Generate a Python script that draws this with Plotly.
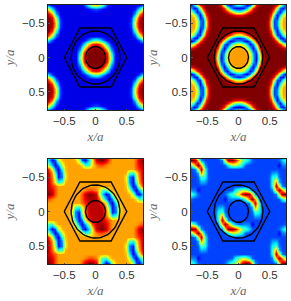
import numpy as np
import plotly.graph_objects as go

W, H = 291, 301
jet = [[0, "#000080"], [.125, "#0000ff"], [.375, "#00ffff"], [.625, "#ffff00"], [.875, "#ff0000"], [1, "#800000"]]

hex_x = [-.5, -.25, .25, .5, .25, -.25, -.5]
hex_y = [0, -.433, -.433, 0, .433, .433, 0]
r_inner, r_outer = .16, .39
tick_vals = [-.5, 0, .5]
tick_text = ["\u22120.5", "0", "0.5"]

# Panel A: top-right quadrant values (rows y=0..0.77, columns x=0..0.76)
A_x = [0, .063, .127, .19, .253, .317, .38, .443, .507, .57, .633, .697, .76]
A_y = [0, .064, .128, .193, .257, .321, .385, .449, .513, .578, .642, .706, .77]
A_quad = [
 [1, 1, 1, .88, .5, .12, .1, .1, .1, .1, .1, .1, .1],
 [1, 1, 1, .85, .41, .12, .1, .1, .1, .1, .1, .1, .1],
 [1, 1, .92, .66, .26, .1, .1, .1, .1, .1, .1, .1, .1],
 [.87, .83, .64, .35, .13, .1, .1, .1, .1, .1, .1, .1, .11],
 [.44, .39, .24, .12, .1, .1, .1, .1, .1, .1, .1, .2, .39],
 [.12, .11, .1, .1, .1, .1, .1, .1, .1, .1, .2, .53, .8],
 [.1, .1, .1, .1, .1, .1, .1, .1, .1, .13, .42, .82, 1],
 [.1, .1, .1, .1, .1, .1, .1, .1, .1, .17, .59, .93, 1],
 [.1, .1, .1, .1, .1, .1, .1, .1, .1, .19, .63, .95, 1],
 [.1, .1, .1, .1, .1, .1, .1, .1, .1, .16, .53, .9, 1],
 [.1, .1, .1, .1, .1, .1, .1, .1, .1, .11, .3, .72, .93],
 [.2, .17, .12, .1, .1, .1, .1, .1, .1, .1, .15, .38, .64],
 [.65, .59, .4, .17, .1, .1, .1, .1, .1, .1, .1, .12, .22],
]

# Panel B: top-right quadrant values on a finer grid
B_x = [0, .0475, .095, .1425, .19, .2375, .285, .3325, .38, .4275, .475, .5225, .57, .6175, .665, .7125, .76]
B_y = [0, .048, .096, .144, .193, .241, .289, .337, .385, .433, .481, .529, .578, .626, .674, .722, .77]
B_quad = [
 [.72, .72, .72, .72, .64, .33, .1, .5, .88, 1, 1, 1, 1, 1, 1, 1, 1],
 [.72, .72, .72, .71, .62, .3, .14, .56, .92, 1, 1, 1, 1, 1, 1, 1, 1],
 [.72, .72, .72, .69, .51, .19, .21, .66, .95, 1, 1, 1, 1, 1, 1, 1, 1],
 [.72, .71, .69, .58, .31, .1, .39, .81, .98, 1, 1, 1, 1, 1, .99, .94, .86],
 [.62, .6, .5, .31, .12, .26, .64, .93, 1, 1, 1, 1, 1, .96, .84, .63, .45],
 [.29, .26, .16, .1, .28, .58, .87, .99, 1, 1, 1, 1, .96, .79, .47, .21, .1],
 [.14, .17, .24, .42, .66, .88, .98, 1, 1, 1, 1, .98, .83, .47, .15, .15, .35],
 [.57, .6, .7, .83, .93, .99, 1, 1, 1, 1, 1, .9, .58, .17, .17, .44, .62],
 [.93, .94, .96, .98, 1, 1, 1, 1, 1, 1, .98, .81, .37, .11, .38, .63, .71],
 [1, 1, 1, 1, 1, 1, 1, 1, 1, 1, .96, .7, .22, .18, .52, .7, .72],
 [1, 1, 1, 1, 1, 1, 1, 1, 1, 1, .95, .64, .19, .24, .59, .71, .72],
 [1, 1, 1, 1, 1, 1, 1, 1, 1, 1, .95, .65, .18, .25, .58, .71, .72],
 [1, 1, 1, 1, 1, 1, 1, 1, 1, 1, .97, .72, .26, .15, .49, .69, .72],
 [.87, .89, .93, .97, 1, 1, 1, 1, 1, 1, .98, .83, .42, .1, .34, .6, .7],
 [.46, .49, .6, .76, .89, .98, 1, 1, 1, 1, 1, .92, .64, .26, .13, .37, .57],
 [.1, .11, .17, .33, .58, .84, .97, 1, 1, 1, 1, .99, .86, .55, .21, .13, .29],
 [.4, .36, .24, .12, .2, .53, .85, .98, 1, 1, 1, 1, .98, .86, .57, .32, .15],
]

# Panels C, D: one repeating cell, upper half (rows y=-0.5..0, columns x=-0.433..0.433)
o = .715
C_cell = [
 [o]*17,
 [o]*17,
 [o]*17,
 [o, o, o, o, .72, .75, .8, .8, .75, .65, .45, .42, .65, .71, o, o, o],
 [o, o, o, o, .8, .93, 1.0, .98, .92, .62, .35, .12, .2, .55, .7, o, o],
 [o, o, o, .72, .8, .9, .96, .96, .94, .8, .55, .3, .1, .25, .58, .7, o],
 [o, o, o, o, .78, .84, .93, .94, .94, .94, .85, .6, .25, .1, .4, .68, o],
 [o, .7, .45, .4, .62, .78, .94, .94, .94, .94, .92, .72, .45, .12, .28, .65, o],
 [.71, .62, .25, .15, .55, .75, .94, .94, .94, .94, .94, .75, .55, .15, .25, .62, .71],
]
b = .19
D_cell = [
 [b]*17,
 [b]*17,
 [b]*17,
 [b, b, b, b, b, b, .22, .38, .48, .55, .55, .4, .22, b, b, b, b],
 [b, b, b, b, .22, .33, .45, .5, .68, .9, 1.0, .98, .65, .25, b, b, b],
 [b, b, b, b, .12, .24, .26, .24, .22, .3, .42, .75, 1.0, .7, .25, b, b],
 [b, b, b, b, b, b, b, b, b, b, b, .25, .6, .95, .4, .2, b],
 [b, .19, .28, .3, .2, b, b, b, b, b, b, b, .3, .75, .42, .2, b],
 [b, .21, .38, .45, .22, b, b, b, b, b, b, b, .22, .45, .38, .21, b],
]


def mirror(x, y, q):
    q = np.array(q)
    top = np.hstack([np.fliplr(q)[:, :-1], q])
    z = np.vstack([np.flipud(top)[:-1], top])
    xs = np.r_[-np.array(x)[:0:-1], x]
    ys = np.r_[-np.array(y)[:0:-1], y]
    return xs, ys, z


def tile(half):
    half = np.array(half)
    cell = np.vstack([half, half[:-1][::-1, ::-1]])
    ii = np.arange(-15, 16)
    jj = np.arange(-13, 14)
    z = np.zeros((len(jj), len(ii)))
    for r, j in enumerate(jj):
        for c, i in enumerate(ii):
            k = (i + 8) // 16
            z[r, c] = cell[((j - 8 * k + 8) % 16), i - 16 * k + 8]
    return ii * .866 / 16, jj * .0625, z


panels = [
    (mirror(A_x, A_y, A_quad), (48, 143, 5, 110)),
    (mirror(B_x, B_y, B_quad), (191, 286, 5, 110)),
    (tile(C_cell), (48, 143, 159, 264)),
    (tile(D_cell), (191, 286, 159, 264)),
]

angles = np.linspace(0, 2 * np.pi, 73)
fig = go.Figure()
layout = {}
for n, ((xs, ys, z), (l, r, t, bt)) in enumerate(panels, 1):
    s = "" if n == 1 else str(n)
    fig.add_trace(go.Heatmap(x=xs, y=ys, z=z, zmin=0, zmax=1, colorscale=jet, zsmooth="best",
                             showscale=False, xaxis="x" + s, yaxis="y" + s))
    line = dict(color="#000", width=1.4)
    fig.add_trace(go.Scatter(x=hex_x, y=hex_y, mode="lines", line=line,
                             showlegend=False, xaxis="x" + s, yaxis="y" + s))
    for rad in (r_inner, r_outer):
        fig.add_trace(go.Scatter(x=rad * np.cos(angles), y=rad * np.sin(angles), mode="lines", line=line,
                                 showlegend=False, xaxis="x" + s, yaxis="y" + s))
    common = dict(tickvals=tick_vals, ticktext=tick_text, tickfont=dict(family="Liberation Sans", size=11.5, color="#333"),
                  showline=True, linecolor="#222", linewidth=1, mirror=True, showgrid=False, zeroline=False,
                  ticks="inside", ticklen=1.5, tickcolor="#555", tickwidth=.6, automargin=False)
    ttl = dict(font=dict(family="Liberation Serif", size=13, color="#666"))
    layout["xaxis" + s] = dict(domain=[l / W, r / W], range=[-.76, .76], anchor="y" + s,
                               title=dict(text="<i>x/a</i>", standoff=6, **ttl), **common)
    layout["yaxis" + s] = dict(domain=[1 - bt / H, 1 - t / H], range=[.77, -.77], anchor="x" + s,
                               title=dict(text="<i>y/a</i>", standoff=4, **ttl), **common)

fig.update_layout(width=W, height=H, margin=dict(l=0, r=0, t=0, b=0), paper_bgcolor="white",
                  plot_bgcolor="white", showlegend=False, **layout)
fig.write_html("out.html", config=dict(displayModeBar=False),
               post_script="document.body.style.margin='0';document.body.style.overflow='hidden';")
